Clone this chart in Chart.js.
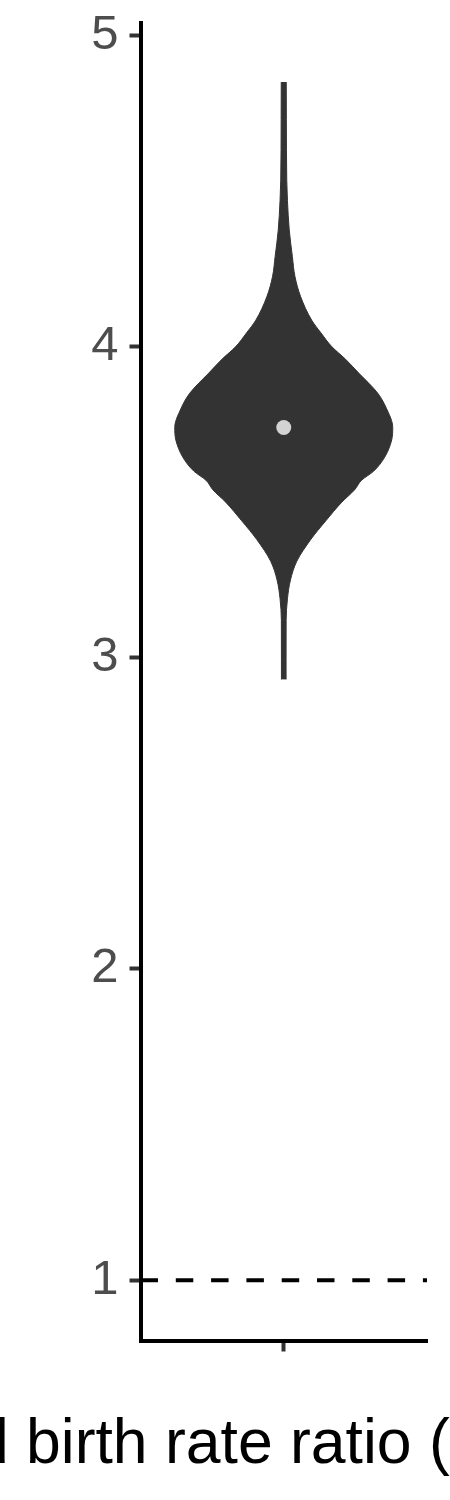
<!DOCTYPE html>
<html>
<head>
<meta charset="utf-8">
<title>Birth rate ratio violin</title>
<script src="https://cdn.jsdelivr.net/npm/chart.js@4.4.1/dist/chart.umd.min.js"></script>
<style>
  html, body { margin: 0; padding: 0; background: #ffffff; }
  .chart-box { width: 450px; height: 1500px; position: relative; }
</style>
</head>
<body>
<div class="chart-box"><canvas id="violinChart"></canvas></div>
<script>
// ================== Data ==================
const yTicks = [1, 2, 3, 4, 5];
const xTicks = [1];
const xTickLabels = [''];
const xTitle = 'Adjusted birth rate ratio (95% CrI)';

// violin outline: ratio value and half width (category units)
const violinRatio = [2.93, 2.99, 3.12, 3.19, 3.25, 3.31, 3.38, 3.44, 3.50, 3.54,
                     3.57, 3.60, 3.645, 3.70, 3.74, 3.80, 3.85, 3.915, 3.96, 4.00,
                     4.045, 4.085, 4.16, 4.225, 4.29, 4.375, 4.47, 4.535, 4.73, 4.85];
const violinHalfWidth = [0.0097, 0.0097, 0.0100, 0.0155, 0.028, 0.0545, 0.113, 0.176, 0.243, 0.297,
                         0.325, 0.377, 0.423, 0.452, 0.4565, 0.431, 0.394, 0.314, 0.258, 0.201,
                         0.155, 0.117, 0.071, 0.047, 0.036, 0.023, 0.0155, 0.0126, 0.0109, 0.0105];
const centreRatio = [3.74];
const referenceRatio = [1];

// ================== Styles ==================
const X_MIN = 0.4, X_MAX = 1.6;
const Y_MIN = 0.806, Y_MAX = 5.04;
const FONT = '"Liberation Sans", Arial, Helvetica, sans-serif';
const VIOLIN = '#333333';
const overlap = 0.004; // halves overlap a little so no seam shows in the middle

const centre = xTicks[0];
const rightEdge = violinRatio.map((v, i) => ({ x: centre + violinHalfWidth[i], y: v }));
const leftEdge = violinRatio.map((v, i) => ({ x: centre - violinHalfWidth[i], y: v }));

// x title is wider than the crop, anchored so "birth" sits where it does in the figure
const axisTitlePlugin = {
  id: 'axisTitle',
  afterDraw(chart) {
    const ctx = chart.ctx;
    ctx.save();
    ctx.font = '62.5px ' + FONT;
    ctx.fillStyle = '#000000';
    ctx.textBaseline = 'alphabetic';
    ctx.textAlign = 'left';
    const lead = xTitle.slice(0, xTitle.indexOf('birth'));
    ctx.fillText(xTitle, 26 - ctx.measureText(lead).width, 1463);
    ctx.restore();
  }
};

const tickGrid = {
  drawOnChartArea: false,
  drawTicks: true,
  tickLength: 11,
  tickWidth: 4,
  tickColor: '#333333'
};

// keep the panel where ggplot put it, labels may overhang
const noOverhang = scale => { scale.paddingTop = 0; scale.paddingBottom = 0; scale.paddingLeft = 0; scale.paddingRight = 0; };

new Chart(document.getElementById('violinChart'), {
  data: {
    datasets: [
      {
        type: 'scatter',
        data: centreRatio.map(v => ({ x: centre, y: v })),
        pointRadius: 7.5,
        pointBackgroundColor: '#d3d3d3',
        pointBorderWidth: 0
      },
      {
        type: 'line',
        indexAxis: 'y',
        data: referenceRatio.map(v => ({ x: X_MIN, y: v })).concat(referenceRatio.map(v => ({ x: X_MAX, y: v }))),
        borderColor: '#000000',
        borderWidth: 4,
        borderDash: [17.5, 17.8],
        pointRadius: 0,
        fill: false
      },
      {
        type: 'line',
        indexAxis: 'y',
        data: rightEdge,
        borderColor: VIOLIN,
        backgroundColor: VIOLIN,
        borderWidth: 1,
        pointRadius: 0,
        cubicInterpolationMode: 'monotone',
        fill: { value: centre - overlap }
      },
      {
        type: 'line',
        indexAxis: 'y',
        data: leftEdge,
        borderColor: VIOLIN,
        backgroundColor: VIOLIN,
        borderWidth: 1,
        pointRadius: 0,
        cubicInterpolationMode: 'monotone',
        fill: { value: centre + overlap }
      }
    ]
  },
  options: {
    responsive: true,
    maintainAspectRatio: false,
    animation: false,
    layout: { autoPadding: false, padding: { top: 23, right: 23, left: 0, bottom: 0 } },
    plugins: {
      legend: { display: false },
      tooltip: { enabled: false }
    },
    scales: {
      x: {
        type: 'linear',
        position: 'bottom',
        min: X_MIN,
        max: X_MAX,
        afterBuildTicks: scale => { scale.ticks = xTicks.map(v => ({ value: v })); },
        afterFit: scale => { scale.height = 159.5; noOverhang(scale); },
        ticks: {
          callback: (val, i) => xTickLabels[i],
          maxRotation: 0,
          font: { family: FONT, size: 49 },
          color: '#4d4d4d'
        },
        grid: tickGrid,
        border: { display: true, color: '#000000', width: 4 }
      },
      y: {
        type: 'linear',
        position: 'left',
        min: Y_MIN,
        max: Y_MAX,
        afterBuildTicks: scale => { scale.ticks = yTicks.map(v => ({ value: v })); },
        afterFit: scale => { scale.width = 140.5; noOverhang(scale); },
        ticks: {
          padding: 11,
          font: { family: FONT, size: 49, lineHeight: 0.5 },
          color: '#4d4d4d'
        },
        grid: tickGrid,
        border: { display: true, color: '#000000', width: 4 }
      }
    }
  },
  plugins: [axisTitlePlugin]
});
</script>
</body>
</html>
